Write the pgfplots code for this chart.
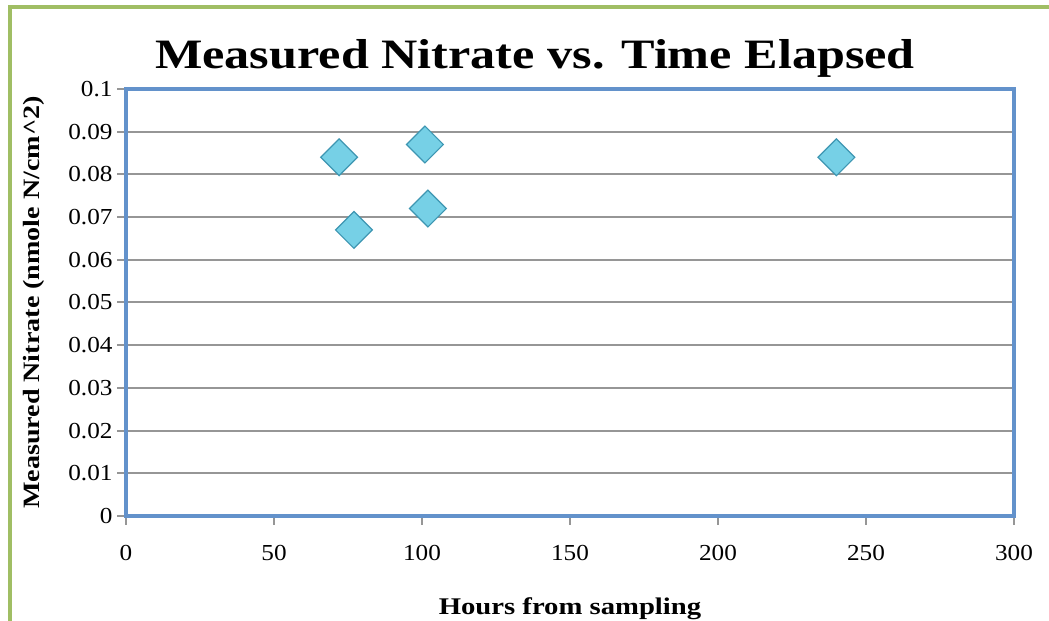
\documentclass[border=0pt]{standalone}
\usepackage{pgfplots}
\pgfplotsset{compat=1.18}
\usepackage{fontspec}
\setmainfont{Liberation Serif}[FakeStretch=1.1]
\newfontfamily\boldcam{Liberation Serif}[FakeStretch=1.2]
\definecolor{frameblue}{RGB}{99,146,203}
\definecolor{gridgray}{RGB}{150,150,150}
\definecolor{greenb}{RGB}{160,190,100}
\definecolor{mfill}{RGB}{118,208,230}
\definecolor{medge}{RGB}{62,150,178}
\begin{document}
\begin{tikzpicture}[x=1bp,y=1bp]
\draw[greenb, line width=4bp] (10,-20) -- (10,614) -- (1080,614);
\begin{axis}[
  at={(126bp,105bp)}, anchor=south west,
  scale only axis, width=888bp, height=427bp,
  xmin=0, xmax=300, ymin=0, ymax=0.1,
  xtick={0,50,...,300}, ytick={0,0.01,...,0.1},
  yticklabels={0,0.01,0.02,0.03,0.04,0.05,0.06,0.07,0.08,0.09,0.1},
  xtick pos=bottom, ytick pos=left,
  axis line style={frameblue, line width=3.5bp},
  ymajorgrids, grid style={gridgray, line width=2bp},
  tick style={gridgray, line width=2bp},
  tick align=outside, major tick length=9bp,
  tick label style={font=\fontsize{23}{25}\selectfont},
  /pgf/number format/assume math mode=true,
  xticklabel style={yshift=-17bp},
  yticklabel style={xshift=-1bp},
  xlabel={Hours from sampling},
  ylabel={Measured Nitrate (nmole N/cm\textasciicircum2)},
  xlabel style={font=\boldcam\bfseries\fontsize{24}{26}\selectfont, yshift=-30bp},
  ylabel style={font=\boldcam\bfseries\fontsize{23.5}{26}\selectfont, yshift=17bp},
  title={Measured Nitrate vs. Time Elapsed},
  title style={font=\boldcam\bfseries\fontsize{42}{46}\selectfont, yshift=2bp, xshift=-35bp},
]
\addplot[only marks, mark=square*, mark size=13bp,
  mark options={rotate=45, fill=mfill, draw=medge, line width=1.2bp}]
  coordinates {(72,0.084) (77,0.067) (101,0.087) (102,0.072) (240,0.084)};
\end{axis}
\pgfresetboundingbox
\useasboundingbox (0,0) rectangle (1049,621);
\end{tikzpicture}
\end{document}
